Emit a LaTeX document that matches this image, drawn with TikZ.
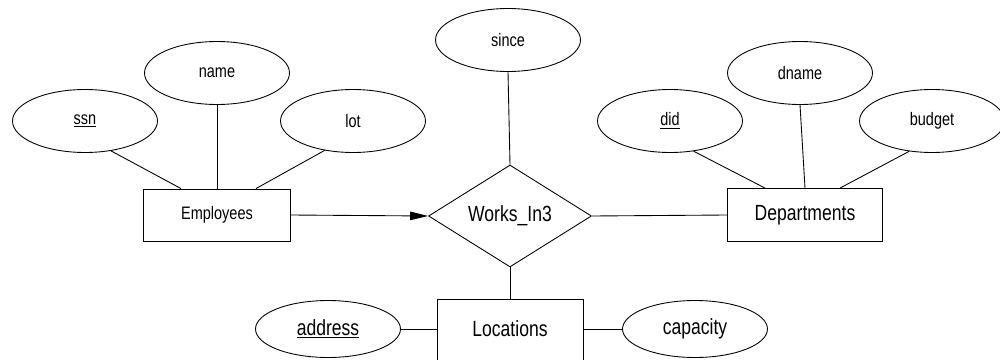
\documentclass[tikz,border=0pt]{standalone}
\usepackage{fontspec}
\setsansfont[FakeStretch=0.8]{Liberation Sans}
\usetikzlibrary{calc, arrows.meta, shapes.geometric}
\tikzset{
  attr/.style={draw, ellipse, inner sep=0pt, minimum width=2.9cm, minimum height=1.26cm, font=\sffamily\fontsize{10.3}{12}\selectfont},
  ent/.style={draw, rectangle, inner sep=0pt, font=\sffamily\fontsize{10.3}{12}\selectfont},
  rel/.style={draw, diamond, aspect=1.6, inner sep=0pt, minimum width=3.26cm, minimum height=2.04cm, font=\sffamily\fontsize{12.5}{14}\selectfont},
  big/.style={font=\sffamily\fontsize{12.5}{14}\selectfont}
}

\begin{document}
\begin{tikzpicture}[x=0.02cm, y=0.02cm, line width=0.5pt]
            \useasboundingbox (0,0) rectangle (1000,359);
            \clip (0,0) rectangle (1000,359);
            % entities and relationship
            \node[ent, minimum width=2.94cm, minimum height=1.04cm] (emp) at (217,144) {Employees};
            \node[ent, big, minimum width=3.1cm, minimum height=1.06cm] (dept) at (805,144) {Departments};
            \node[ent, big, minimum width=2.92cm, minimum height=1.4cm] (loc) at (510,25) {\raisebox{0.2cm}{Locations}};
            \node[rel] (works) at (510,143) {Works\_In3};
            % attributes
            \node[attr] (ssn) at (85,238) {\underline{ssn}};
            \node[attr] (name) at (217,286) {name};
            \node[attr] (lot) at (353,238) {lot};
            \node[attr] (since) at (508,319) {since};
            \node[attr] (did) at (670,238) {\underline{did}};
            \node[attr] (dname) at (800,286) {dname};
            \node[attr] (budget) at (932,238) {budget};
            \node[attr, big, minimum height=1.14cm] (address) at (328,30) {\underline{address}};
            \node[attr, big, minimum height=1.14cm] (capacity) at (695,30) {capacity};
            % connectors
            \draw (ssn.-49)--($(emp.north)+(-36,0)$);
            \draw (name.south)--(emp.north);
            \draw (lot.-134)--($(emp.north)+(39,0)$);
            \draw (did.-52)--($(dept.north)+(-40,0)$);
            \draw (dname.south)--(dept.north);
            \draw (budget.-127)--($(dept.north)+(35,0)$);
            \draw (since.south)--(works.north);
            \draw[-{Triangle[length=0.36cm,width=0.17cm]}] (emp.east)--(works.west);
            \draw (works.east)--(dept.west);
            \draw (works.south)--(loc.north);
            \draw (address.east)--($(loc.west)+(0,5)$);
            \draw ($(loc.east)+(0,5)$)--(capacity.west);
\end{tikzpicture}
\end{document}
